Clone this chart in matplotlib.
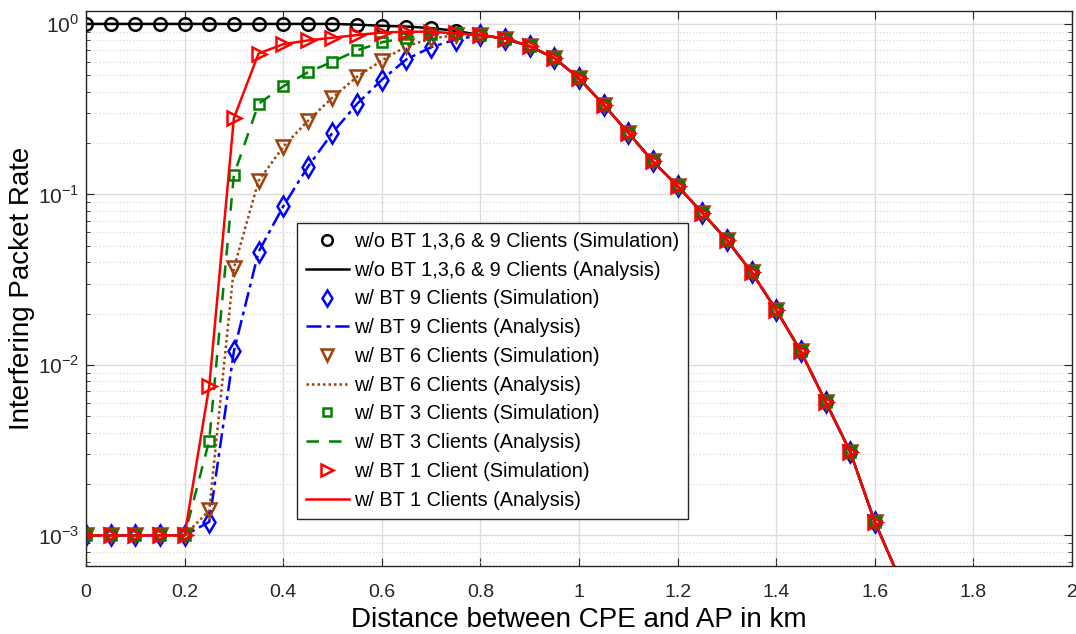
import matplotlib
matplotlib.use("Agg")
import matplotlib.pyplot as plt
import numpy as np

plt.rcParams['font.family'] = ['Liberation Sans', 'DejaVu Sans']
plt.rcParams['mathtext.fontset'] = 'custom'
plt.rcParams['mathtext.rm'] = 'Liberation Sans'

x = [0, 0.05, 0.1, 0.15, 0.2, 0.25, 0.3, 0.35, 0.4, 0.45, 0.5, 0.55, 0.6, 0.65,
     0.7, 0.75, 0.8, 0.85, 0.9, 0.95, 1.0, 1.05, 1.1, 1.15, 1.2, 1.25, 1.3, 1.35,
     1.4, 1.45, 1.5, 1.55, 1.6, 1.65]

tail = [0.86, 0.82, 0.74, 0.63, 0.48, 0.335, 0.23, 0.156, 0.112, 0.078, 0.054,
        0.035, 0.021, 0.012, 0.0061, 0.0031, 0.0012, 0.00056]

no_bt = [1.0, 1.0, 1.0, 1.0, 1.0, 1.0, 1.0, 1.0, 1.0, 1.0, 1.0, 0.99, 0.975, 0.965,
         0.945, 0.91] + tail
bt9 = [0.001, 0.001, 0.001, 0.001, 0.001, 0.0012, 0.012, 0.046, 0.085, 0.145, 0.23,
       0.34, 0.47, 0.62, 0.73, 0.81] + tail
bt6 = [0.001, 0.001, 0.001, 0.001, 0.001, 0.0014, 0.037, 0.12, 0.19, 0.27, 0.37,
       0.49, 0.61, 0.74, 0.82, 0.86] + tail
bt3 = [0.001, 0.001, 0.001, 0.001, 0.001, 0.0036, 0.13, 0.34, 0.43, 0.52, 0.60,
       0.70, 0.78, 0.83, 0.87, 0.88] + tail
bt1 = [0.001, 0.001, 0.001, 0.001, 0.001, 0.0075, 0.28, 0.67, 0.76, 0.80, 0.83,
       0.86, 0.89, 0.90, 0.90, 0.88] + tail

labels_sim = ['w/o BT 1,3,6 & 9 Clients (Simulation)', 'w/ BT 9 Clients (Simulation)',
              'w/ BT 6 Clients (Simulation)', 'w/ BT 3 Clients (Simulation)',
              'w/ BT 1 Client (Simulation)']
labels_ana = ['w/o BT 1,3,6 & 9 Clients (Analysis)', 'w/ BT 9 Clients (Analysis)',
              'w/ BT 6 Clients (Analysis)', 'w/ BT 3 Clients (Analysis)',
              'w/ BT 1 Clients (Analysis)']
series = [no_bt, bt9, bt6, bt3, bt1]
colors = ['black', 'blue', '#A0400A', '#008000', 'red']
markers = ['o', 'd', 'v', 's', '>']
msizes = [9, 10, 10, 7, 10]
styles = ['-', (0, (6, 2, 1.5, 2)), (0, (1, 1.2)), (0, (5, 4)), '-']

fig = plt.figure(figsize=(10.76, 6.34), dpi=100)
ax = fig.add_axes([0.0799, 0.107, 0.9164, 0.8756])

for s, c, m, ms, ls, ls_lab, la_lab in zip(series, colors, markers, msizes, styles,
                                           labels_sim, labels_ana):
    ax.plot(x, s, linestyle='none', marker=m, markersize=ms, markerfacecolor='none',
            markeredgecolor=c, markeredgewidth=1.8, label=ls_lab)
    ax.plot(x, s, linestyle=ls, color=c, linewidth=1.8, label=la_lab)

ax.set_yscale('log')
ax.set_xlim(0, 2)
ax.set_ylim(6.6e-4, 1.19)
xt = [0, 0.2, 0.4, 0.6, 0.8, 1.0, 1.2, 1.4, 1.6, 1.8, 2.0]
ax.set_xticks(xt)
ax.set_xticklabels(['0', '0.2', '0.4', '0.6', '0.8', '1', '1.2', '1.4', '1.6', '1.8', '2'])
ax.set_yticks([1e-3, 1e-2, 1e-1, 1])
ax.set_yticklabels([r'$10^{-3}$', r'$10^{-2}$', r'$10^{-1}$', r'$10^{0}$'])

ax.grid(True, which='major', color='#DCDCDC', linestyle='-', linewidth=1.0)
ax.grid(True, which='minor', axis='y', color='#D0D0D0', linestyle=(0, (1, 2)), linewidth=0.8)
ax.set_axisbelow(True)
ax.tick_params(which='both', direction='in', top=True, right=True, colors='#262626',
               labelsize=14)
ax.tick_params(which='major', length=6)
ax.tick_params(which='minor', length=3)
ax.tick_params(axis='x', which='major', pad=13)
ax.tick_params(axis='y', which='major', pad=5, labelsize=15)
for sp in ax.spines.values():
    sp.set_color('#262626')
    sp.set_linewidth(1.0)

ax.set_xlabel('Distance between CPE and AP in km', fontsize=20, labelpad=4)
ax.set_ylabel('Interfering Packet Rate', fontsize=20, labelpad=2)

leg = ax.legend(loc='upper left', bbox_to_anchor=(0.214, 0.618), fontsize=14.3,
                frameon=True, fancybox=False, edgecolor='#262626', framealpha=1,
                borderpad=0.45, labelspacing=0.49, handlelength=2.15, handletextpad=0.26,
                borderaxespad=0, markerscale=0.85)
leg.get_frame().set_linewidth(1.0)

fig.savefig('out.png', dpi=100)
